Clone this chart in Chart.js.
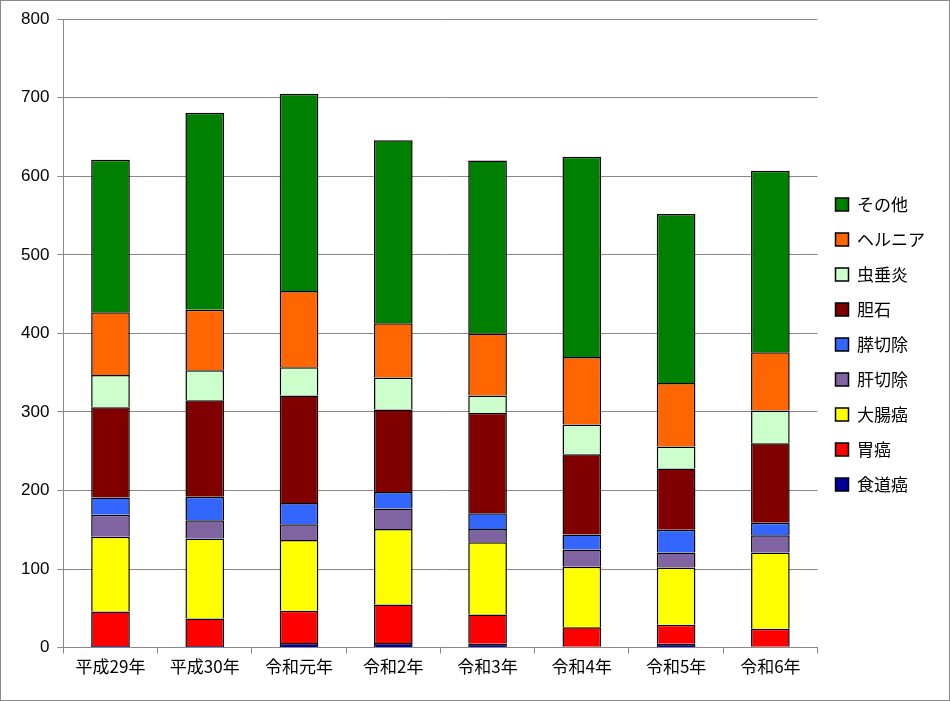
<!DOCTYPE html>
<html><head><meta charset="utf-8">
<script src="https://cdn.jsdelivr.net/npm/chart.js@4"></script>
<style>body{margin:0;background:#fff}#w{width:948px;height:699px;border:1px solid #888}</style>
</head><body><div id="w"><canvas id="c"></canvas></div>
<script>
const categories=['平成29年','平成30年','令和元年','令和2年','令和3年','令和4年','令和5年','令和6年'];
const shokudo=[2,2,6,6,5,1,5,1];
const igan=[44,35,41,49,37,25,24,23];
const daicho=[95,102,90,96,92,77,73,97];
const kansetsu=[28,23,20,26,17,22,19,22];
const suisetsu=[22,30,27,21,20,19,29,16];
const tanseki=[115,123,137,105,128,102,78,101];
const chusui=[41,38,36,41,22,38,28,42];
const hernia=[80,77,97,69,79,86,81,74];
const sonota=[194,251,251,233,220,255,215,231];
const names=['食道癌','胃癌','大腸癌','肝切除','膵切除','胆石','虫垂炎','ヘルニア','その他'];
const colors=['#000099','#ff0000','#ffff00','#8064a2','#3366ff','#800000','#ccffcc','#ff6600','#008000'];
const series=[shokudo,igan,daicho,kansetsu,suisetsu,tanseki,chusui,hernia,sonota];
new Chart(document.getElementById('c'),{type:'bar',
data:{labels:categories,datasets:series.map((d,i)=>({label:names[i],data:d,backgroundColor:colors[i],borderColor:'#000',borderWidth:1.5,barPercentage:0.41,categoryPercentage:1}))},
options:{responsive:true,maintainAspectRatio:false,animation:false,
layout:{padding:{left:12,right:14,top:8,bottom:20}},
plugins:{tooltip:{enabled:false},legend:{position:'right',reverse:true,labels:{font:{size:17,family:'Noto Sans CJK JP'},color:'#000',boxWidth:13,boxHeight:13,padding:18}}},
scales:{x:{stacked:true,grid:{display:true,offset:true,drawOnChartArea:false,color:'#888',tickLength:6},border:{color:'#888'},ticks:{font:{size:17,family:'Noto Sans CJK JP'},color:'#000'}},
y:{stacked:true,min:0,max:800,ticks:{stepSize:100,font:{size:17,family:'Liberation Sans'},color:'#000',padding:8},grid:{color:'#888',tickLength:6},border:{color:'#888'}}}}});
</script></body></html>
